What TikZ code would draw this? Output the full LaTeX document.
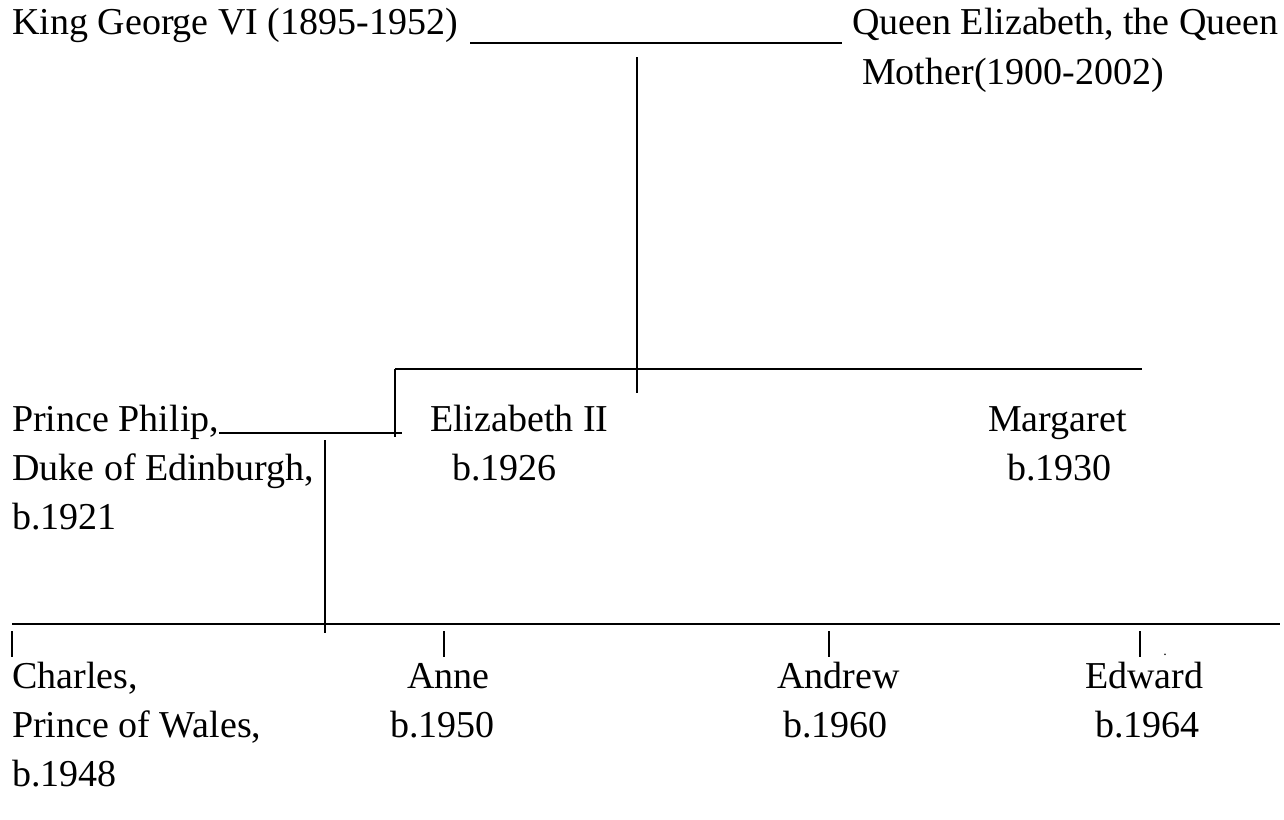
\documentclass[tikz,border=0pt]{standalone}
\usepackage{fontspec}
\setmainfont{Liberation Serif}
\usepackage{tikz}
\usetikzlibrary{positioning}

\begin{document}
\begin{tikzpicture}[x=1pt, y=-1pt]
            \tikzstyle{person} = [anchor=base west, inner sep=0pt, font=\fontsize{38}{46}\selectfont]
            \tikzstyle{line} = [draw, line width=1.8pt]

            \useasboundingbox (0,0) rectangle (1284,819);

            % 第一代
            \node[person] (george) at (12,34) {King George VI (1895-1952)};
            \node[person] (queenmum) at (852,34) {Queen Elizabeth, the Queen};
            \node[person] (mother) at (862,84) {Mother(1900-2002)};

            % 第二代
            \node[person] (philip) at (12,431) {Prince Philip,};
            \node[person] (duke) at (12,480) {Duke of Edinburgh,};
            \node[person] (bphilip) at (12,529) {b.1921};
            \node[person] (elizabeth) at (430,431) {Elizabeth II};
            \node[person] (belizabeth) at (452,480) {b.1926};
            \node[person] (margaret) at (988,431) {Margaret};
            \node[person] (bmargaret) at (1007,480) {b.1930};

            % 第三代
            \node[person] (charles) at (12,688) {Charles,};
            \node[person] (wales) at (12,737) {Prince of Wales,};
            \node[person] (bcharles) at (12,786) {b.1948};
            \node[person] (anne) at (407,688) {Anne};
            \node[person] (banne) at (390,737) {b.1950};
            \node[person] (andrew) at (777,688) {Andrew};
            \node[person] (bandrew) at (783,737) {b.1960};
            \node[person] (edward) at (1085,688) {Edward};
            \node[person] (bedward) at (1095,737) {b.1964};
            \node[inner sep=0pt, font=\fontsize{14}{14}\selectfont] (dot) at (1165,655) {.};

            % 连接点
            \coordinate (marry1l) at (470,43);
            \coordinate (marry1r) at (842,43);
            \coordinate (kids1top) at (637,57);
            \coordinate (kids1bot) at (637,393);
            \coordinate (kids1l) at (395,369);
            \coordinate (kids1r) at (1142,369);
            \coordinate (lizdrop) at (395,437);
            \coordinate (marry2l) at (219,433);
            \coordinate (marry2r) at (402,433);
            \coordinate (kids2top) at (325,440);
            \coordinate (kids2bot) at (325,633);
            \coordinate (kids2l) at (12,624);
            \coordinate (kids2r) at (1280,624);

            % 添加连线
            \path [line] (marry1l) -- (marry1r);
            \path [line] (kids1top) -- (kids1bot);
            \path [line] (kids1l) -- (kids1r);
            \path [line] (kids1l) -- (lizdrop);
            \path [line] (marry2l) -- (marry2r);
            \path [line] (kids2top) -- (kids2bot);
            \path [line] (kids2l) -- (kids2r);
            \foreach \tick in {12, 444, 829, 1140} {
                \path [line, line width=1.5pt] (\tick,631) -- (\tick,657);
            }
        \end{tikzpicture}
\end{document}
